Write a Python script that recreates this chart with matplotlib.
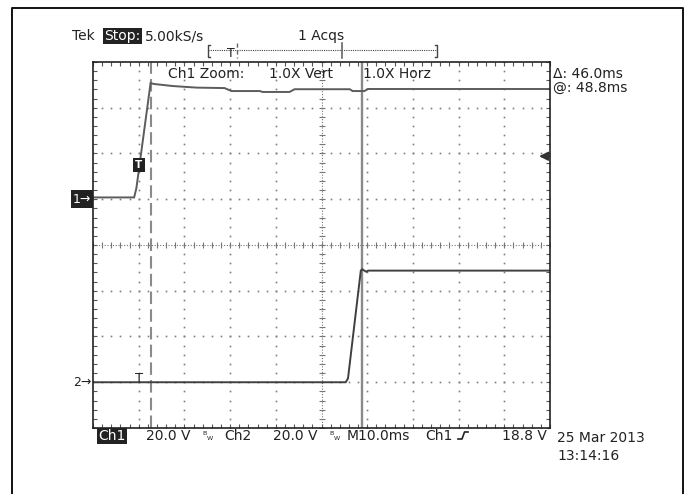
import numpy as np
import matplotlib
matplotlib.use("Agg")
import matplotlib.pyplot as plt
from matplotlib.ticker import MultipleLocator
from matplotlib.transforms import blended_transform_factory

plt.rcParams['font.family'] = ['DejaVu Sans']

# scope settings
ms_per_div = 10.0
volts_per_div = 20.0
trig_div = 1.0        # trigger point, divisions from the left edge
ch1_pos = 1.0         # ground positions in divisions from centre
ch2_pos = -3.0
trig_level = 18.8     # volts, on Ch1
cursor1_ms = 2.8
cursor2_ms = 48.8

# Ch1 waveform (ms, V)
ch1_t = [-10.0, -1.0, -0.5, 2.6, 3.3, 7.4, 12.7, 18.8, 20.3, 26.5, 27.1, 33.0,
         34.1, 46.2, 46.8, 49.4, 50.1, 90.0]
ch1_v = [0.8, 0.8, 4.9, 50.8, 50.4, 49.5, 48.8, 48.6, 47.3, 47.3, 46.9, 46.9,
         48.1, 48.1, 47.3, 47.3, 48.2, 48.2]

# Ch2 waveform (ms, V)
ch2_t = [-10.0, 45.3, 45.8, 48.6, 48.9, 49.8, 50.2, 90.0]
ch2_v = [0.0, 0.0, 1.7, 48.8, 49.4, 48.3, 48.8, 48.8]


def to_div(t, v, pos):
    x = np.asarray(t) / ms_per_div + trig_div
    y = np.asarray(v) / volts_per_div + pos
    return x, y


W, H = 692, 494
fig = plt.figure(figsize=(W / 100, H / 100), dpi=100)
fig.patch.set_facecolor('white')

# graticule area
gl, gr, gt, gb = 93, 550, 62, 428
ax = fig.add_axes([gl / W, (H - gb) / H, (gr - gl) / W, (gb - gt) / H])
ax.set_xlim(0, 10)
ax.set_ylim(-4, 4)
for a in (ax.xaxis, ax.yaxis):
    a.set_major_locator(MultipleLocator(1))
    a.set_minor_locator(MultipleLocator(0.2))
ax.tick_params(which='both', direction='in', top=True, right=True,
               labelbottom=False, labelleft=False, length=3, width=0.8,
               color='#555555')
for sp in ax.spines.values():
    sp.set_linewidth(1.2)
    sp.set_color('#222222')

gridc = '#7e7e7e'
steps = np.arange(0, 10.001, 0.2)
vsteps = np.arange(-4, 4.001, 0.2)
for gx in range(1, 10):
    if gx == 5:
        continue
    ax.plot(np.full_like(vsteps, gx), vsteps, ls='none', marker='s', ms=1.2,
            mew=0, color=gridc)
for gy in range(-3, 4):
    if gy == 0:
        continue
    ax.plot(steps, np.full_like(steps, gy), ls='none', marker='s', ms=1.2,
            mew=0, color=gridc)

# centre crosshair with fine ticks
ax.axhline(0, color='#777777', lw=0.8, ls=(0, (1, 1.5)))
ax.axvline(5, color='#777777', lw=0.8, ls=(0, (1, 1.5)))
ax.plot(steps, np.zeros_like(steps), ls='none', marker='|', ms=4.5, mew=0.8,
        color='#777777')
ax.plot(np.full_like(vsteps, 5), vsteps, ls='none', marker='_', ms=4.5,
        mew=0.8, color='#777777')

# cursors
c1x = cursor1_ms / ms_per_div + trig_div
c2x = cursor2_ms / ms_per_div + trig_div
ax.axvline(c1x, color='#8a8a8a', lw=1.5, dashes=(6, 2.5))
ax.axvline(c2x, color='#8a8a8a', lw=1.7)

# traces
x1, y1 = to_div(ch1_t, ch1_v, ch1_pos)
x2, y2 = to_div(ch2_t, ch2_v, ch2_pos)
ax.plot(x1, y1, color='#5c5c5c', lw=1.4, solid_joinstyle='miter')
ax.plot(x2, y2, color='#404040', lw=1.4, solid_joinstyle='miter')

blend = blended_transform_factory(ax.transAxes, ax.transData)

# channel ground markers
ax.text(-0.004, ch1_pos, '1\u2192', transform=blend, ha='right', va='center',
        fontsize=9, color='white', clip_on=False,
        bbox=dict(boxstyle='square,pad=0.18', fc='#222222', ec='none'))
ax.text(-0.004, ch2_pos, '2\u2192', transform=blend, ha='right', va='center',
        fontsize=9, color='#222222', clip_on=False)

# trigger markers
ax.text(trig_div, ch1_pos + 15.0 / volts_per_div, 'T', ha='center',
        va='center', fontsize=7.5, color='white', fontweight='bold',
        bbox=dict(boxstyle='square,pad=0.22', fc='#222222', ec='none'))
ax.text(trig_div, ch2_pos, 'T', ha='center', va='baseline', fontsize=9.5,
        color='#222222')

# trigger level arrow on the right edge
ty = ch1_pos + trig_level / volts_per_div
ax.annotate('', xy=(0.976, ty), xycoords=blend, xytext=(1.0, ty),
            textcoords=blend,
            arrowprops=dict(arrowstyle='-|>', color='#333333', lw=1.4,
                            mutation_scale=13, shrinkA=0, shrinkB=0))

# overlay in pixel coordinates for the readouts
ov = fig.add_axes([0, 0, 1, 1], zorder=5)
ov.set_xlim(0, W)
ov.set_ylim(H, 0)
ov.axis('off')
ov.patch.set_alpha(0)

# outer frame
ov.plot([12, 12, 683, 683], [H, 8, 8, H], color='#111111', lw=1.4,
        clip_on=False)

tc = '#222222'
fs = 10


def label(x, y, s, **kw):
    kw.setdefault('fontsize', fs)
    kw.setdefault('color', tc)
    ov.text(x, y, s, ha='left', va='baseline', **kw)


def inverse(x, y, s):
    ov.text(x, y, s, ha='left', va='baseline', fontsize=fs, color='white',
            bbox=dict(boxstyle='square,pad=0.1', fc='#222222', ec='none'))


label(72, 40, 'Tek')
inverse(104, 40, 'Stop:')
label(145, 40, '5.00kS/s')
label(298, 40, '1 Acqs')

# record bar with trigger and cursor positions
bl, br, by = 207.5, 437.0, 50
ov.plot([bl, br], [by, by], color='#444444', lw=0.8, ls=(0, (1, 1)))
ov.plot([bl + 2.5, bl, bl, bl + 2.5], [45, 45, 57, 57], color='#444444',
        lw=1.0)
ov.plot([br - 2.5, br, br, br - 2.5], [45, 45, 57, 57], color='#444444',
        lw=1.0)
bw = br - bl
ov.text(bl + bw * trig_div / 10, 57, 'T', ha='center', va='baseline',
        fontsize=9, color=tc)
ov.plot([bl + bw * c1x / 10] * 2, [43, 58], color='#666666', lw=1.0,
        ls=(0, (3, 2)))
ov.plot([bl + bw * c2x / 10] * 2, [43, 58], color='#666666', lw=1.2)

label(168, 78, 'Ch1 Zoom:')
label(269, 78, '1.0X Vert')
label(363, 78, '1.0X Horz')
label(553, 78, '\u0394: %.1fms' % (cursor2_ms - cursor1_ms))
label(553, 92, '@: %.1fms' % cursor2_ms)

# bottom status line
inverse(98, 440, 'Ch1')
label(146, 440, '%.1f V' % volts_per_div)
label(202, 435, 'B', fontsize=4.5)
label(206.5, 440, 'W', fontsize=4.5)
label(224, 440, 'Ch2')
label(273, 440, '%.1f V' % volts_per_div)
label(329, 435, 'B', fontsize=4.5)
label(333.5, 440, 'W', fontsize=4.5)
label(347, 440, 'M%.1fms' % ms_per_div)
label(425, 440, 'Ch1')
ov.plot([458, 462, 464.5, 468], [439, 439, 432, 432], color=tc, lw=1.2)
label(502, 440, '%.1f V' % trig_level)
label(557, 442, '25 Mar 2013')
label(557, 460, '13:14:16')

fig.savefig('out.png', dpi=100, facecolor='white')
